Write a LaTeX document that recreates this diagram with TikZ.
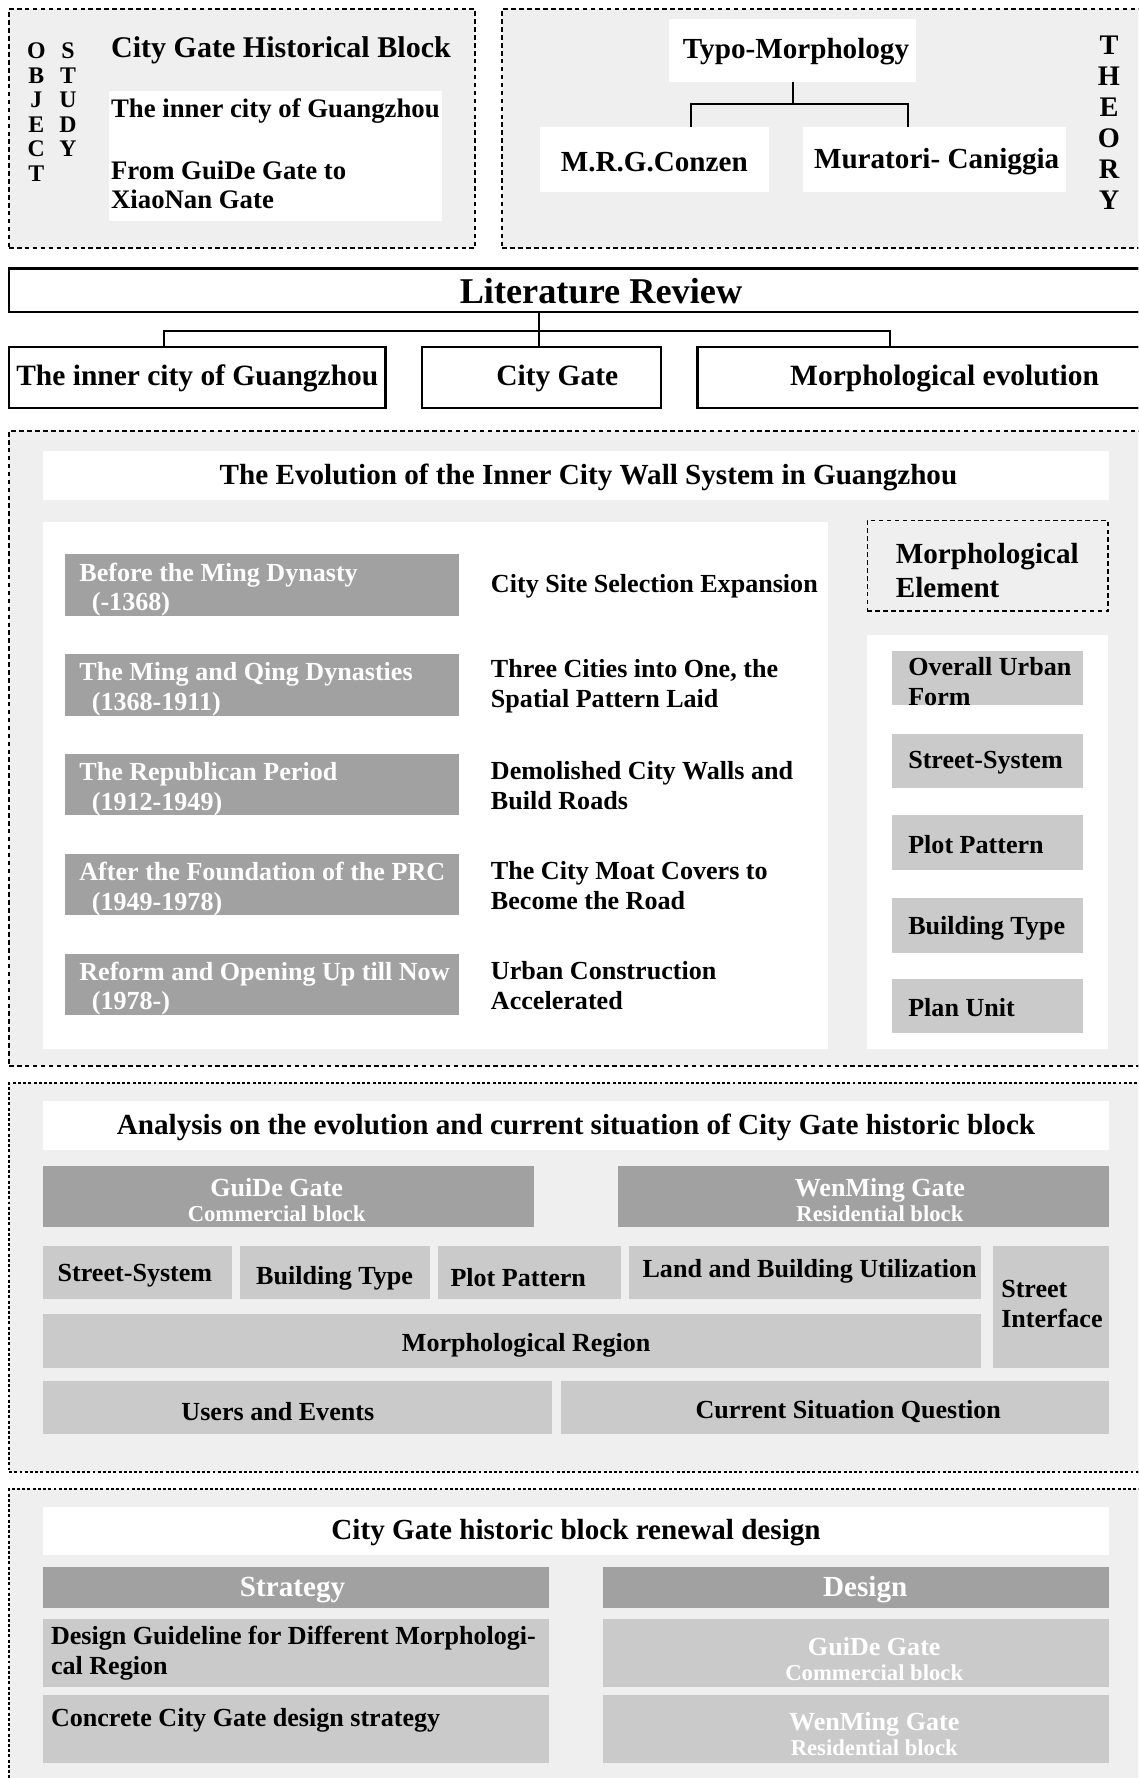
\documentclass[tikz,border=0pt]{standalone}
\usepackage{fontspec}
\setmainfont{Liberation Serif}
\usetikzlibrary{fit}
\definecolor{bgg}{HTML}{EFEFEF}
\definecolor{dkg}{HTML}{A0A1A0}
\definecolor{ltg}{HTML}{C9CAC9}
\begin{document}
\begin{tikzpicture}[x=1pt,y=-1pt,
  every node/.style={font=\bfseries, inner sep=0pt, outer sep=0pt},
  fLR/.style={font=\bfseries\fontsize{32}{36}\selectfont},
  fA/.style={font=\bfseries\fontsize{25.7}{30}\selectfont},
  fL/.style={font=\bfseries\fontsize{26}{30}\selectfont},
  fB/.style={font=\bfseries\fontsize{23}{26}\selectfont},
  fC/.style={font=\bfseries\fontsize{20}{22}\selectfont},
  fObj/.style={font=\bfseries\fontsize{21}{21.6}\selectfont, align=center},
  fTh/.style={font=\bfseries\fontsize{25}{27.4}\selectfont, align=center},
  dbox/.style={draw=black, line width=1.6pt, dash pattern=on 4pt off 3pt, fill=bgg},
  dboxb/.style={draw=black, line width=1.6pt, dash pattern=on 2.6pt off 2pt, fill=bgg},
  wbox/.style={fill=white},
  dkbox/.style={fill=dkg},
  ltbox/.style={fill=ltg},
  lrbox/.style={draw=black, line width=2.2pt, fill=white},
  conn/.style={draw=black, line width=1.8pt},
  lt/.style={anchor=west, align=left},
]
\path[use as bounding box] (0,0) rectangle (1004,1568);
\clip (0,0) rectangle (1004,1568);

% ---------- Section 1 ----------
\node (objbox) [dbox, fit={(8,8) (419,219)}] {};
\node (thbox) [dbox, fit={(443,8) (1040,219)}] {};
\node (obj) [fObj] at (32,99) {O\\B\\J\\E\\C\\T};
\node (stu) [fObj] at (60,88) {S\\T\\U\\D\\Y};
\node (cghb) [lt, font=\bfseries\fontsize{26.5}{30}\selectfont] at (98,44) {City Gate Historical Block};
\node (ocb) [wbox, fit={(96,80) (390,195)}] {};
\node (oc1) [lt, font=\bfseries\fontsize{23.6}{26}\selectfont] at (98,98) {The inner city of Guangzhou};
\node (oc2) [lt, font=\bfseries\fontsize{23.6}{26}\selectfont] at (98,163) {From GuiDe Gate to\\XiaoNan Gate};

\node (typo) [wbox, fit={(590,17) (808,72)}] {};
\node (typot) [fA] at ([xshift=3pt,yshift=-1pt]typo.center) {Typo-Morphology};
\node (conz) [wbox, fit={(476,112) (678,169)}] {};
\node (conzt) [fA] at ([yshift=-2pt]conz.center) {M.R.G.Conzen};
\node (mura) [wbox, fit={(708,112) (940,169)}] {};
\node (murat) [fA] at ([xshift=2pt,yshift=-2pt]mura.center) {Muratori- Caniggia};
\coordinate (tj) at (699,92);
\draw[conn] (typo.south) -- (tj);
\draw[conn] ([xshift=32pt]conz.north) |- (tj) -| ([xshift=-23pt]mura.north);
\node (theo) [fTh] at (978,108) {T\\H\\E\\O\\R\\Y};

% ---------- Literature review ----------
\node (lr) [lrbox, fit={(8,237) (1052,275)}] {};
\node (lrt) [fLR] at ([yshift=-1pt]lr.center) {Literature Review};
\node (li1) [lrbox, fit={(8,306) (340,360)}] {};
\node (li1t) [fL] at ([yshift=-1pt]li1.center) {The inner city of Guangzhou};
\node (li2) [lrbox, fit={(372,306) (583,360)}] {};
\node (li2t) [fL] at ([xshift=14pt,yshift=-1pt]li2.center) {City Gate};
\node (li3) [lrbox, fit={(615,306) (1051,360)}] {};
\node (li3t) [fL] at ([yshift=-1pt]li3.center) {Morphological evolution};
\coordinate (lj) at (475,292);
\draw[conn] (lr.south -| lj) -- (lj) -- (li2.north -| lj);
\draw[conn] ([xshift=-29pt]li1.north) |- (lj) -| ([xshift=-48pt]li3.north);

% ---------- Section 3 ----------
\node (s3) [dbox, fit={(8,380) (1040,940)}] {};
\node (s3t) [wbox, fit={(38,398) (978,441)}] {};
\node (s3tt) [fA] at (519,421) {The Evolution of the Inner City Wall System in Guangzhou};
\node (lp) [wbox, fit={(38,460) (730,925)}] {};

\node (e1) [dkbox, fit={(57,489) (405,543)}] {};
\node (e2) [dkbox, fit={(57,577) (405,631)}] {};
\node (e3) [dkbox, fit={(57,665) (405,719)}] {};
\node (e4) [dkbox, fit={(57,753) (405,807)}] {};
\node (e5) [dkbox, fit={(57,841) (405,895)}] {};
\node (e1t) [lt, fB, text=white] at (70,520) {Before the Ming Dynasty\\\hspace*{11pt}(-1368)};
\node (e2t) [lt, fB, text=white] at (70,608) {The Ming and Qing Dynasties\\\hspace*{11pt}(1368-1911)};
\node (e3t) [lt, fB, text=white] at (70,696) {The Republican Period\\\hspace*{11pt}(1912-1949)};
\node (e4t) [lt, fB, text=white] at (70,784) {After the Foundation of the PRC\\\hspace*{11pt}(1949-1978)};
\node (e5t) [lt, fB, text=white] at (70,872) {Reform and Opening Up till Now\\\hspace*{11pt}(1978-)};

\node (d1) [lt, fB] at (433,517) {City Site Selection Expansion};
\node (d2) [lt, fB] at (433,605) {Three Cities into One, the\\Spatial Pattern Laid};
\node (d3) [lt, fB] at (433,693) {Demolished City Walls and\\Build Roads};
\node (d4) [lt, fB] at (433,781) {The City Moat Covers to\\Become the Road};
\node (d5) [lt, fB] at (433,869) {Urban Construction\\Accelerated};

\node (me) [dbox, fit={(765,459) (977,539)}] {};
\node (met) [lt, fA] at (790,503) {Morphological\\Element};
\node (rp) [wbox, fit={(765,560) (977,925)}] {};
\node (m1) [ltbox, fit={(787,574) (955,622)}] {};
\node (m2) [ltbox, fit={(787,647) (955,695)}] {};
\node (m3) [ltbox, fit={(787,719) (955,767)}] {};
\node (m4) [ltbox, fit={(787,792) (955,840)}] {};
\node (m5) [ltbox, fit={(787,863) (955,911)}] {};
\node (m1t) [lt, fB] at (801,601) {Overall Urban\\Form};
\node (m2t) [lt, fB] at (801,673) {Street-System};
\node (m3t) [lt, fB] at (801,745) {Plot Pattern};
\node (m4t) [lt, fB] at (801,819) {Building Type};
\node (m5t) [lt, fB] at (801,889) {Plan Unit};

% ---------- Section 4 ----------
\node (s4) [dboxb, fit={(8,955) (1040,1298)}] {};
\node (s4t) [wbox, fit={(38,971) (978,1014)}] {};
\node (s4tt) [fA] at ([yshift=-2pt]s4t.center) {Analysis on the evolution and current situation of City Gate historic block};
\node (gd) [dkbox, fit={(38,1028) (471,1082)}] {};
\node (gdt) [fC, align=center, text=white] at (244,1058) {{\fontsize{23}{22}\selectfont GuiDe Gate}\\Commercial block};
\node (wm) [dkbox, fit={(545,1028) (978,1082)}] {};
\node (wmt) [fC, align=center, text=white] at (776,1058) {{\fontsize{23}{22}\selectfont WenMing Gate}\\Residential block};

\node (r1) [ltbox, fit={(38,1099) (205,1146)}] {};
\node (r1t) [fB] at (119,1125) {Street-System};
\node (r2) [ltbox, fit={(212,1099) (379,1146)}] {};
\node (r2t) [fB] at (295,1127) {Building Type};
\node (r3) [ltbox, fit={(386,1099) (548,1146)}] {};
\node (r3t) [fB] at (457,1127) {Plot Pattern};
\node (r4) [ltbox, fit={(555,1099) (865,1146)}] {};
\node (r4t) [fB] at (714,1121) {Land and Building Utilization};
\node (r5) [ltbox, fit={(876,1099) (978,1206)}] {};
\node (r5t) [lt, fB] at (883,1150) {Street\\Interface};
\node (r6) [ltbox, fit={(38,1159) (865,1206)}] {};
\node (r6t) [fB] at (464,1186) {Morphological Region};
\node (r7) [ltbox, fit={(38,1218) (487,1265)}] {};
\node (r7t) [fB] at (245,1245) {Users and Events};
\node (r8) [ltbox, fit={(495,1218) (978,1265)}] {};
\node (r8t) [fB] at (748,1245) {Current Situation Question};

% ---------- Section 5 ----------
\node (s5) [dboxb, fit={(8,1313) (1040,1600)}] {};
\node (s5t) [wbox, fit={(38,1329) (978,1371)}] {};
\node (s5tt) [fA] at ([yshift=-2pt]s5t.center) {City Gate historic block renewal design};
\node (st) [dkbox, fit={(38,1382) (484,1418)}] {};
\node (stt) [fA, text=white] at ([xshift=-3pt,yshift=-2pt]st.center) {Strategy};
\node (ds) [dkbox, fit={(532,1382) (978,1418)}] {};
\node (dst) [fA, text=white] at ([xshift=8pt,yshift=-2pt]ds.center) {Design};
\node (sg1) [ltbox, fit={(38,1428) (484,1488)}] {};
\node (sg1t) [lt, fB] at (45,1458) {Design Guideline for Different Morphologi-\\cal Region};
\node (sg2) [ltbox, fit={(38,1495) (484,1555)}] {};
\node (sg2t) [lt, fB] at (45,1517) {Concrete City Gate design strategy};
\node (dg1) [ltbox, fit={(532,1428) (978,1488)}] {};
\node (dg1t) [fC, align=center, text=white] at (771,1463) {{\fontsize{23}{22}\selectfont GuiDe Gate}\\Commercial block};
\node (dg2) [ltbox, fit={(532,1495) (978,1555)}] {};
\node (dg2t) [fC, align=center, text=white] at (771,1529) {{\fontsize{23}{22}\selectfont WenMing Gate}\\Residential block};
\end{tikzpicture}
\end{document}
